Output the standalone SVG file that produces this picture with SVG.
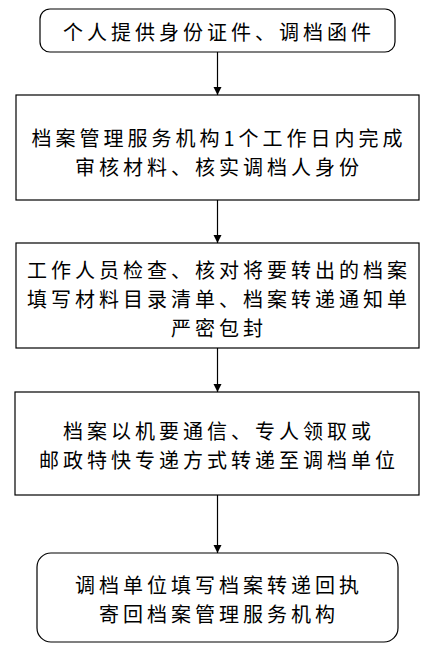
<svg xmlns="http://www.w3.org/2000/svg" width="434" height="647" viewBox="0 0 434 647">
<defs>
<marker id="arr" viewBox="0 0 8 10" refX="8" refY="5" markerWidth="8" markerHeight="10" markerUnits="userSpaceOnUse" orient="auto">
<path d="M0,1 L8,5 L0,9 Z" fill="#000"/>
</marker>
<style>
.box{fill:#fff;stroke:#000;stroke-width:1.2}
.t{font-family:"Noto Sans CJK SC","Liberation Serif",sans-serif;font-size:20px;letter-spacing:4px;text-anchor:middle;fill:#000}
.c{stroke:#000;stroke-width:1.2;fill:none;marker-end:url(#arr)}
</style>
</defs>
<rect width="434" height="647" fill="#fff"/>
<g id="connectors">
<line class="c" x1="217.5" y1="52" x2="217.5" y2="95"/>
<line class="c" x1="217.5" y1="200" x2="217.5" y2="243"/>
<line class="c" x1="217.5" y1="348" x2="217.5" y2="392"/>
<line class="c" x1="217.5" y1="495" x2="217.5" y2="553"/>
</g>
<g id="n1">
<rect class="box" x="40" y="9" width="355" height="43" rx="10"/>
<text class="t" x="219" y="40">个人提供身份证件、调档函件</text>
</g>
<g id="n2">
<rect class="box" x="16" y="95" width="403" height="105"/>
<text class="t" x="219" y="146">档案管理服务机构1个工作日内完成</text>
<text class="t" x="219" y="175">审核材料、核实调档人身份</text>
</g>
<g id="n3">
<rect class="box" x="16" y="243" width="403" height="105"/>
<text class="t" x="219" y="278">工作人员检查、核对将要转出的档案</text>
<text class="t" x="219" y="307">填写材料目录清单、档案转递通知单</text>
<text class="t" x="219" y="336">严密包封</text>
</g>
<g id="n4">
<rect class="box" x="15" y="392" width="404" height="103"/>
<text class="t" x="219" y="439">档案以机要通信、专人领取或</text>
<text class="t" x="219" y="468">邮政特快专递方式转递至调档单位</text>
</g>
<g id="n5">
<rect class="box" x="37" y="553" width="361" height="89" rx="14"/>
<text class="t" x="219" y="593">调档单位填写档案转递回执</text>
<text class="t" x="219" y="622">寄回档案管理服务机构</text>
</g>
</svg>
